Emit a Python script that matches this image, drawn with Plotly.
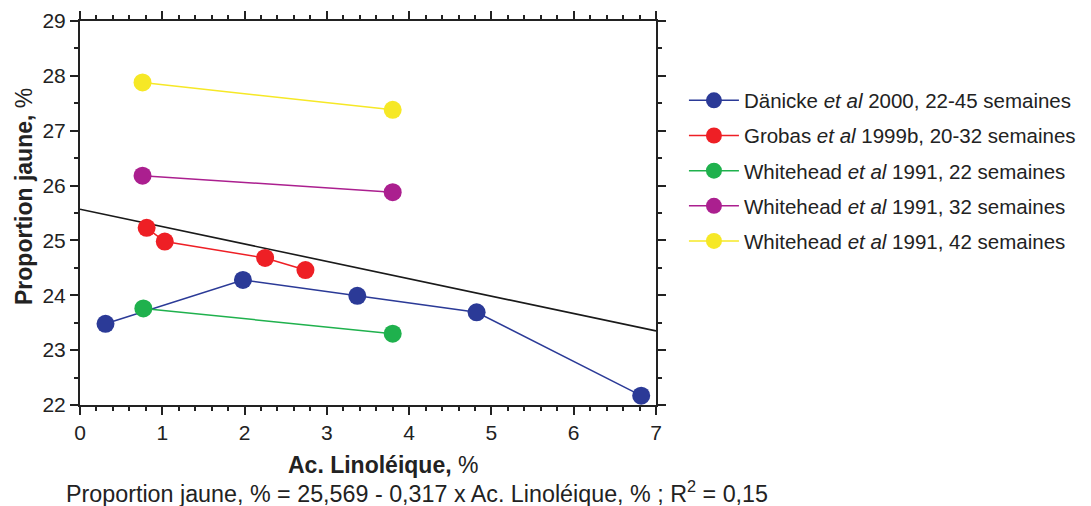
import plotly.graph_objects as go

# Data
danicke_x = [0.31, 1.98, 3.37, 4.82, 6.82]
danicke_y = [23.48, 24.28, 23.99, 23.69, 22.17]
grobas_x = [0.81, 1.03, 2.25, 2.74]
grobas_y = [25.23, 24.98, 24.68, 24.46]
wh22_x = [0.77, 3.80]
wh22_y = [23.76, 23.30]
wh32_x = [0.76, 3.80]
wh32_y = [26.18, 25.88]
wh42_x = [0.76, 3.80]
wh42_y = [27.88, 27.38]
reg_intercept = 25.569
reg_slope = -0.317
reg_x = [0, 7]

names = [
    "Dänicke <i>et al</i> 2000, 22-45 semaines",
    "Grobas <i>et al</i> 1999b, 20-32 semaines",
    "Whitehead <i>et al</i> 1991, 22 semaines",
    "Whitehead <i>et al</i> 1991, 32 semaines",
    "Whitehead <i>et al</i> 1991, 42 semaines",
]
colors = ["#2b3a97", "#ee1f25", "#1fb14d", "#ab1f8f", "#f6e826"]
series = [(danicke_x, danicke_y), (grobas_x, grobas_y), (wh22_x, wh22_y),
          (wh32_x, wh32_y), (wh42_x, wh42_y)]

FONT = "Liberation Sans, Arial, sans-serif"

fig = go.Figure()

reg_y = [reg_intercept + reg_slope * x for x in reg_x]
fig.add_trace(go.Scatter(x=reg_x, y=reg_y, mode="lines",
                         line=dict(color="#1a1a1a", width=1.6),
                         showlegend=False, hoverinfo="skip"))

for i, ((xs, ys), nm, c) in enumerate(zip(series, names, colors)):
    fig.add_trace(go.Scatter(x=xs, y=ys, mode="lines+markers", name=nm,
                             legendgroup=str(i),
                             line=dict(color=c, width=1.5),
                             marker=dict(color=c, size=18)))

axis_common = dict(showline=True, linecolor="#222", linewidth=2,
                   mirror="ticks", ticks="outside", ticklen=8, tickwidth=2,
                   tickcolor="#222", showgrid=False, zeroline=False,
                   automargin=False,
                   tickfont=dict(family=FONT, size=21, color="#222"))

fig.update_xaxes(range=[0, 7], dtick=1, tick0=0,
                 minor=dict(dtick=0.2, ticks="outside", ticklen=4, tickwidth=1.5,
                            tickcolor="#222", showgrid=False),
                 **axis_common)
fig.update_yaxes(range=[22, 29], dtick=1, tick0=22,
                 minor=dict(dtick=0.5, ticks="outside", ticklen=4, tickwidth=1.5,
                            tickcolor="#222", showgrid=False),
                 **axis_common)

fig.update_layout(
    width=1083, height=498,
    margin=dict(l=72, r=435, t=13, b=101, autoexpand=False),
    paper_bgcolor="white", plot_bgcolor="white",
    font=dict(family=FONT, color="#222"),
    legend=dict(x=1.0485, y=0.845, xanchor="left", yanchor="top",
                font=dict(family=FONT, size=20.5, color="#222"),
                tracegroupgap=5.5, traceorder="grouped", itemwidth=50),
    annotations=[
        dict(text="<b>Ac. Linoléique,</b> %", xref="paper", yref="paper",
             x=0.526, y=-0.155, xanchor="center", yanchor="middle",
             showarrow=False, font=dict(family=FONT, size=23, color="#222")),
        dict(text="<b>Proportion jaune,</b> %", xref="paper", yref="paper",
             x=-0.097, y=0.542, xanchor="center", yanchor="middle", textangle=-90,
             showarrow=False, font=dict(family=FONT, size=23, color="#222")),
        dict(text="Proportion jaune, % = 25,569 - 0,317 x Ac. Linoléique, % ; R<sup>2</sup> = 0,15",
             xref="paper", yref="paper", x=0.585, y=-0.226,
             xanchor="center", yanchor="middle", showarrow=False,
             font=dict(family=FONT, size=23.3, color="#222")),
    ],
)

fig.write_html("out.html")
